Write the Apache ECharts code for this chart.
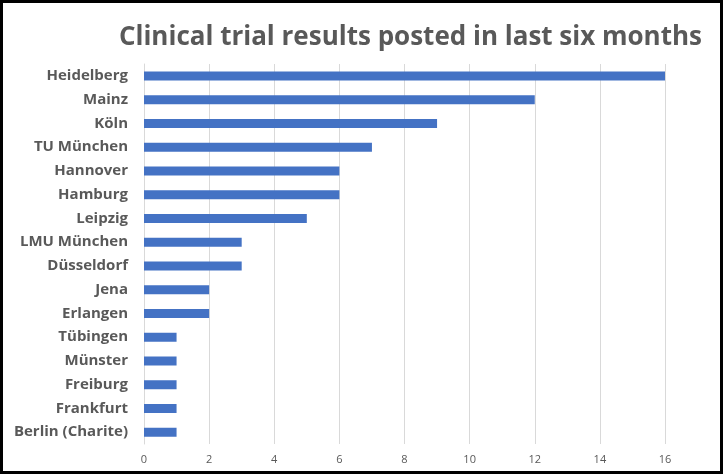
<!DOCTYPE html>
<html><head><meta charset="utf-8">
<script src="https://cdn.jsdelivr.net/npm/echarts@6/dist/echarts.min.js"></script>
<style>
html,body{margin:0;padding:0;background:#fff;}
#wrap{position:absolute;left:0;top:0;width:717px;height:468px;border:3px solid #000;background:#fff;}
#c{width:717px;height:468px;}
</style></head>
<body><div id="wrap"><div id="c"></div></div>
<script>
const categories = ["Heidelberg","Mainz","Köln","TU München","Hannover","Hamburg","Leipzig","LMU München","Düsseldorf","Jena","Erlangen","Tübingen","Münster","Freiburg","Frankfurt","Berlin (Charite)"];
const values = [16,12,9,7,6,6,5,3,3,2,2,1,1,1,1,1];
const xTicks = [0,2,4,6,8,10,12,14,16];

const chart = echarts.init(document.getElementById('c'));
chart.setOption({
  animation:false,
  title:{text:"Clinical trial results posted in last six months", right:13, top:17,
    textStyle:{fontFamily:"Open Sans", fontWeight:"bold", fontSize:26, color:"#595959"}},
  grid:{left:141, right:55, top:61, bottom:27},
  xAxis:{type:"value", min:xTicks[0], max:xTicks[xTicks.length-1], interval:2,
    axisLine:{show:false}, axisTick:{show:false},
    splitLine:{lineStyle:{color:"#d9d9d9"}},
    axisLabel:{color:"#595959", fontFamily:"Open Sans", fontSize:11, margin:10}},
  yAxis:{type:"category", data:categories, inverse:true,
    axisLine:{show:true, lineStyle:{color:"#d9d9d9"}}, axisTick:{show:false},
    axisLabel:{color:"#595959", fontFamily:"Open Sans", fontWeight:"bold", fontSize:15, margin:16}},
  series:[{type:"bar", data:values, barWidth:9, itemStyle:{color:"#4472C4"}}]
});
</script></body></html>
